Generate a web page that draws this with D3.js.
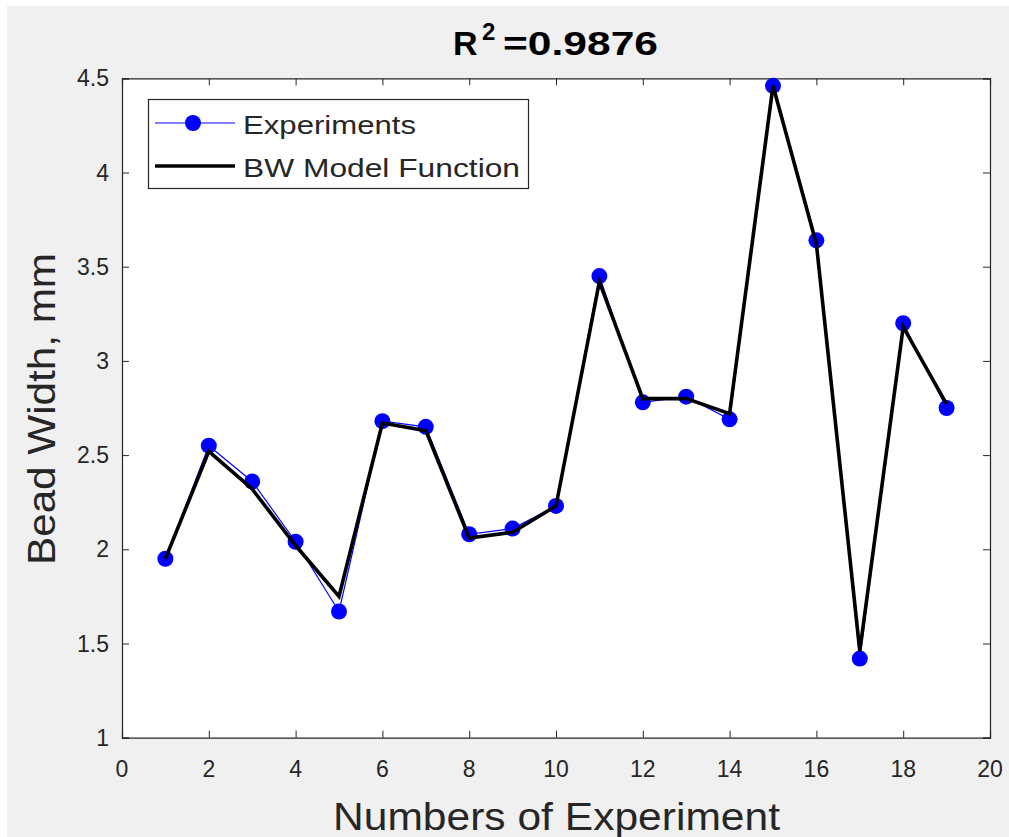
<!DOCTYPE html>
<html>
<head>
<meta charset="utf-8">
<script src="https://cdn.jsdelivr.net/npm/d3@7"></script>
<style>
  html, body { margin: 0; padding: 0; background: #ffffff; }
  svg { display: block; }
  text { font-family: "Liberation Sans", Arial, Helvetica, sans-serif; }
</style>
</head>
<body>
<svg id="chart" width="1009" height="837"></svg>
<script>
// data
var experimentNo = [1, 2, 3, 4, 5, 6, 7, 8, 9, 10, 11, 12, 13, 14, 15, 16, 17, 18, 19];
var experiments = [1.95, 2.55, 2.36, 2.04, 1.67, 2.68, 2.65, 2.08, 2.11, 2.23, 3.45, 2.78, 2.81, 2.69, 4.46, 3.64, 1.42, 3.20, 2.75];
var modelBW = [1.95, 2.52, 2.32, 2.02, 1.75, 2.67, 2.63, 2.06, 2.09, 2.23, 3.42, 2.80, 2.80, 2.72, 4.46, 3.62, 1.46, 3.18, 2.77];
var xTicks = [0, 2, 4, 6, 8, 10, 12, 14, 16, 18, 20];
var yTicks = [1, 1.5, 2, 2.5, 3, 3.5, 4, 4.5];

var svg = d3.select("#chart"),
    margin = { left: 122, right: 19, top: 78.3, bottom: 99.3 },
    width = +svg.attr("width"),
    height = +svg.attr("height"),
    axisColor = "#262626",
    tickLen = 7;

// figure background (grey, small white strip top/left like the screenshot)
svg.append("rect")
    .attr("x", 7).attr("y", 6)
    .attr("width", width - 7).attr("height", height - 6)
    .attr("fill", "#f0f0f0");

var x = d3.scaleLinear().domain([0, 20]).range([margin.left, width - margin.right]);
var y = d3.scaleLinear().domain([1, 4.5]).range([height - margin.bottom, margin.top]);

// plot area
svg.append("rect")
    .attr("x", x(0)).attr("y", y(4.5))
    .attr("width", x(20) - x(0)).attr("height", y(1) - y(4.5))
    .attr("fill", "#ffffff");

// ------------------------------------------
// axes: inward ticks on all four sides (box on)
var xAxisBottom = d3.axisBottom(x).tickValues(xTicks).tickSize(-tickLen).tickFormat("");
var xAxisTop = d3.axisTop(x).tickValues(xTicks).tickSize(-tickLen).tickFormat("");
var yAxisLeft = d3.axisLeft(y).tickValues(yTicks).tickSize(-tickLen).tickFormat("");
var yAxisRight = d3.axisRight(y).tickValues(yTicks).tickSize(-tickLen).tickFormat("");

svg.append("g").attr("transform", `translate(0,${y(1)})`).call(xAxisBottom);
svg.append("g").attr("transform", `translate(0,${y(4.5)})`).call(xAxisTop);
svg.append("g").attr("transform", `translate(${x(0)},0)`).call(yAxisLeft);
svg.append("g").attr("transform", `translate(${x(20)},0)`).call(yAxisRight);

svg.selectAll(".domain").attr("stroke", axisColor).attr("stroke-width", 1.2);
svg.selectAll(".tick line").attr("stroke", axisColor).attr("stroke-width", 1);

// tick labels
svg.append("g").selectAll("text")
    .data(xTicks)
    .join("text")
    .attr("x", (d) => x(d))
    .attr("y", 777)
    .attr("text-anchor", "middle")
    .style("font-size", "23px")
    .attr("fill", axisColor)
    .text((d) => d);

svg.append("g").selectAll("text")
    .data(yTicks)
    .join("text")
    .attr("x", 109)
    .attr("y", (d) => y(d) + 8)
    .attr("text-anchor", "end")
    .style("font-size", "23px")
    .attr("fill", axisColor)
    .text((d) => d);

// axis titles
svg.append("text")
    .attr("x", (x(0) + x(20)) / 2 + 0.5)
    .attr("y", 830)
    .attr("text-anchor", "middle")
    .style("font-size", "39px")
    .attr("fill", axisColor)
    .attr("textLength", 447)
    .attr("lengthAdjust", "spacingAndGlyphs")
    .text("Numbers of Experiment");

svg.append("text")
    .attr("transform", `translate(55,${409}) rotate(-90)`)
    .attr("text-anchor", "middle")
    .style("font-size", "39px")
    .attr("fill", axisColor)
    .attr("textLength", 312)
    .attr("lengthAdjust", "spacingAndGlyphs")
    .text("Bead Width, mm");

// title R^2
var title = svg.append("text")
    .attr("y", 55)
    .style("font-size", "34px")
    .style("font-weight", "bold")
    .attr("fill", "#000000");
title.append("tspan").attr("x", 453).text("R");
title.append("tspan").attr("x", 482).attr("dy", -15).style("font-size", "24px").text("2");
title.append("tspan").attr("x", 503).attr("dy", 15).attr("textLength", 155).attr("lengthAdjust", "spacingAndGlyphs").text("=0.9876");

// ------------------------------------------
// series
var line = d3.line().x((d) => x(d[0])).y((d) => y(d[1]));
var expData = d3.zip(experimentNo, experiments);
var modelData = d3.zip(experimentNo, modelBW);

svg.append("path")
    .datum(expData)
    .attr("d", line)
    .attr("fill", "none")
    .attr("stroke", "#0000ff")
    .attr("stroke-width", 1.2);

svg.append("g").selectAll("circle")
    .data(expData)
    .join("circle")
    .attr("cx", (d) => x(d[0]))
    .attr("cy", (d) => y(d[1]))
    .attr("r", 8)
    .attr("fill", "#0000ff");

svg.append("path")
    .datum(modelData)
    .attr("d", line)
    .attr("fill", "none")
    .attr("stroke", "#000000")
    .attr("stroke-width", 3.6)
    .attr("stroke-linejoin", "miter");

// ------------------------------------------
// legend
var legend = svg.append("g").attr("id", "legend");
legend.append("rect")
    .attr("x", 148.5).attr("y", 99.5)
    .attr("width", 380).attr("height", 89)
    .attr("fill", "#ffffff")
    .attr("stroke", axisColor)
    .attr("stroke-width", 1.2);

legend.append("line")
    .attr("x1", 155).attr("x2", 235).attr("y1", 123).attr("y2", 123)
    .attr("stroke", "#0000ff").attr("stroke-width", 1.2);
legend.append("circle").attr("cx", 193).attr("cy", 123).attr("r", 8).attr("fill", "#0000ff");
legend.append("line")
    .attr("x1", 155).attr("x2", 235).attr("y1", 166).attr("y2", 166)
    .attr("stroke", "#000000").attr("stroke-width", 3.6);

legend.append("text")
    .attr("x", 243).attr("y", 134)
    .style("font-size", "26px")
    .attr("fill", axisColor)
    .attr("textLength", 173)
    .attr("lengthAdjust", "spacingAndGlyphs")
    .text("Experiments");
legend.append("text")
    .attr("x", 243).attr("y", 177)
    .style("font-size", "26px")
    .attr("fill", axisColor)
    .attr("textLength", 277)
    .attr("lengthAdjust", "spacingAndGlyphs")
    .text("BW Model Function");
</script>
</body>
</html>
